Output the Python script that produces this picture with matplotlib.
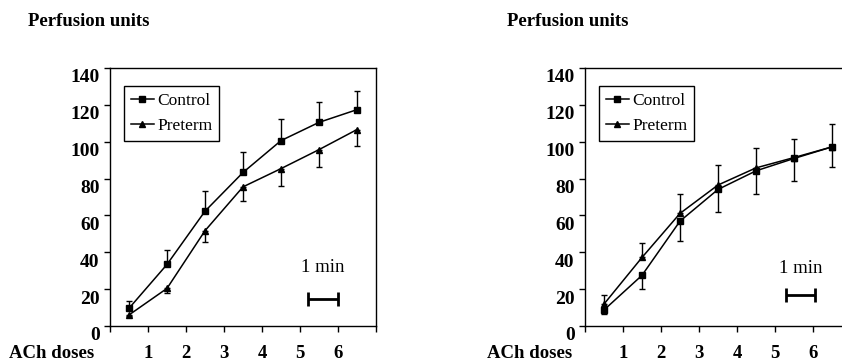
"""Perfusion response to ACh doses, control vs preterm (two panels)"""
import matplotlib
matplotlib.use("Agg")
import matplotlib.pyplot as plt
from matplotlib.transforms import ScaledTranslation

plt.rcParams["font.family"] = ["Liberation Serif", "DejaVu Serif"]

# data
dose_pos = [0.5, 1.5, 2.5, 3.5, 4.5, 5.5, 6.5]
dose_ticks = [0, 1, 2, 3, 4, 5, 6, 7]
dose_labels = ["", "1", "2", "3", "4", "5", "6", ""]
y_ticks = [0, 20, 40, 60, 80, 100, 120, 140]

left_control = [9.6, 33.4, 62.3, 83.3, 100.6, 110.5, 117.4]
left_control_err = [4, 8, 11, 11, 11.5, 11.2, 10.3]   # drawn upwards
left_preterm = [6.0, 20.4, 51.7, 75.5, 85.4, 95.7, 106.6]
left_preterm_err = [0.5, 2.7, 6.2, 7.8, 9.2, 9.4, 8.7]  # drawn downwards

right_control = [8.7, 27.5, 56.9, 74.1, 84.2, 90.9, 97.2]
right_control_err = [2, 7.6, 10.7, 12.3, 12.5, 12.3, 10.7]  # downwards
right_preterm = [11.9, 37.2, 61.1, 76.5, 85.8, 91.4, 97.2]
right_preterm_err = [5.1, 8.0, 10.6, 10.6, 10.8, 9.9, 12.4]  # upwards

W, H = 842, 363
fig = plt.figure(figsize=(W / 100, H / 100), dpi=100)


def panel(x0_px, ctrl, ctrl_err, ctrl_up, pre, pre_err, pre_up, bar_x, bar_y, txt_xy):
    ax = fig.add_axes([x0_px / W, 1 - 326 / H, 266 / W, 258 / H])
    zeros = [0] * len(dose_pos)
    c_err = [zeros, ctrl_err] if ctrl_up else [ctrl_err, zeros]
    p_err = [zeros, pre_err] if pre_up else [pre_err, zeros]
    ax.errorbar(dose_pos, ctrl, yerr=c_err, fmt="none", ecolor="black",
                elinewidth=1, capsize=2.5, capthick=1)
    ax.errorbar(dose_pos, pre, yerr=p_err, fmt="none", ecolor="black",
                elinewidth=1, capsize=2.5, capthick=1)
    ax.plot(dose_pos, ctrl, "-s", color="black", lw=1.1, ms=4.8, label="Control")
    ax.plot(dose_pos, pre, "-^", color="black", lw=1.1, ms=5, label="Preterm")

    ax.set_xlim(0, 7)
    ax.set_ylim(0, 140)
    ax.set_xticks(dose_ticks)
    ax.set_xticklabels(dose_labels, fontsize=13.5, fontweight="bold")
    ax.set_yticks(y_ticks)
    ax.set_yticklabels([str(v) for v in y_ticks], fontsize=14, fontweight="bold")
    ax.tick_params(axis="x", direction="out", length=4, width=1, pad=9.5)
    ax.tick_params(axis="y", direction="out", length=4, width=1, pad=3.5)
    off = ScaledTranslation(0, -0.08, fig.dpi_scale_trans)
    for lab in ax.get_yticklabels():
        lab.set_transform(lab.get_transform() + off)
    for s in ax.spines.values():
        s.set_linewidth(1)

    leg = ax.legend(loc="upper left", bbox_to_anchor=(0.053, 0.93), borderaxespad=0,
                    fontsize=12.5, handlelength=1.3, handletextpad=0.2,
                    fancybox=False, edgecolor="black", framealpha=1,
                    borderpad=0.4, labelspacing=0.5)
    leg.get_frame().set_linewidth(1)

    # 1 min scale bar
    ax.errorbar([(bar_x[0] + bar_x[1]) / 2], [bar_y], xerr=[(bar_x[1] - bar_x[0]) / 2],
                fmt="none", ecolor="black", elinewidth=2, capsize=5, capthick=2)
    ax.text(txt_xy[0], txt_xy[1], "1 min", fontsize=13.5, ha="center", va="center")
    return ax


panel(110, left_control, left_control_err, True, left_preterm, left_preterm_err, False,
      (5.22, 6.0), 14.6, (5.6, 31.5))
panel(585, right_control, right_control_err, False, right_preterm, right_preterm_err, True,
      (5.3, 6.06), 16.8, (5.68, 31))

for x in (28, 507):
    fig.text(x / W, 1 - 22 / H, "Perfusion units", fontsize=13.5, fontweight="bold",
             ha="left", va="center")
for x in (9, 487):
    fig.text(x / W, 1 - 354 / H, "ACh doses", fontsize=13.5, fontweight="bold",
             ha="left", va="center")

fig.savefig("out.png", dpi=100)
